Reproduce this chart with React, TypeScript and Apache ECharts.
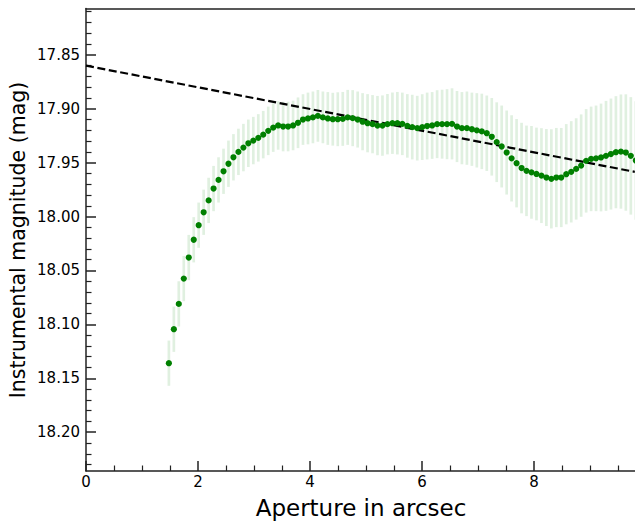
import React, { useEffect, useRef } from "react";
import * as echarts from "echarts";

// Aperture radius (arcsec)
const apertures = [
  1.480, 1.569, 1.657, 1.746, 1.835, 1.924, 2.012, 2.101, 2.190, 2.278,
  2.367, 2.456, 2.544, 2.633, 2.722, 2.811, 2.899, 2.988, 3.077, 3.165,
  3.254, 3.343, 3.431, 3.520, 3.609, 3.698, 3.786, 3.875, 3.964, 4.052,
  4.141, 4.230, 4.318, 4.407, 4.496, 4.585, 4.673, 4.762, 4.851, 4.939,
  5.028, 5.117, 5.205, 5.294, 5.383, 5.472, 5.560, 5.649, 5.738, 5.826,
  5.915, 6.004, 6.092, 6.181, 6.270, 6.359, 6.447, 6.536, 6.625, 6.713,
  6.802, 6.891, 6.979, 7.068, 7.157, 7.246, 7.334, 7.423, 7.512, 7.600,
  7.689, 7.778, 7.866, 7.955, 8.044, 8.133, 8.221, 8.310, 8.399, 8.487,
  8.576, 8.665, 8.753, 8.842, 8.931, 9.020, 9.108, 9.197, 9.286, 9.374,
  9.463, 9.552, 9.640, 9.729, 9.818,
];

// Instrumental magnitude (mag)
const magnitudes = [
  18.136, 18.1045, 18.081, 18.0575, 18.038, 18.0215, 18.008, 17.996, 17.985, 17.974,
  17.966, 17.958, 17.951, 17.945, 17.940, 17.936, 17.932, 17.9295, 17.927, 17.924,
  17.9205, 17.9175, 17.9155, 17.9165, 17.9165, 17.9155, 17.913, 17.910, 17.909, 17.908,
  17.9066, 17.908, 17.909, 17.9097, 17.9097, 17.9094, 17.908, 17.9087, 17.910, 17.912,
  17.9134, 17.9143, 17.9156, 17.9156, 17.9143, 17.9134, 17.9134, 17.914, 17.9159, 17.917,
  17.918, 17.917, 17.916, 17.9155, 17.9143, 17.9143, 17.9143, 17.914, 17.9165, 17.918,
  17.918, 17.919, 17.920, 17.921, 17.9227, 17.926, 17.931, 17.935, 17.9406, 17.946,
  17.9505, 17.955, 17.9576, 17.959, 17.9605, 17.962, 17.9638, 17.965, 17.9638, 17.9638,
  17.9607, 17.9585, 17.9558, 17.9527, 17.9483, 17.9465, 17.946, 17.9452, 17.9437, 17.942,
  17.9403, 17.9397, 17.9406, 17.9437, 17.948,
];

// Magnitude uncertainty (mag, half-length of error bar)
const magErrors = [
  0.021, 0.021, 0.021, 0.021, 0.021, 0.021, 0.021, 0.021, 0.021, 0.021,
  0.021, 0.021, 0.0215, 0.0215, 0.0215, 0.022, 0.022, 0.022, 0.022, 0.022,
  0.0225, 0.0225, 0.0225, 0.023, 0.023, 0.023, 0.0235, 0.0235, 0.024, 0.024,
  0.024, 0.024, 0.0245, 0.0245, 0.025, 0.025, 0.0255, 0.026, 0.026, 0.0265,
  0.027, 0.027, 0.0275, 0.028, 0.028, 0.0285, 0.029, 0.029, 0.0295, 0.030,
  0.030, 0.0305, 0.031, 0.031, 0.0315, 0.032, 0.0325, 0.033, 0.033, 0.0335,
  0.034, 0.034, 0.0345, 0.035, 0.035, 0.036, 0.037, 0.038, 0.039, 0.040,
  0.041, 0.042, 0.042, 0.043, 0.043, 0.044, 0.045, 0.046, 0.046, 0.046,
  0.0465, 0.047, 0.047, 0.0475, 0.048, 0.0485, 0.049, 0.050, 0.051, 0.0515,
  0.052, 0.053, 0.054, 0.0545, 0.055,
];

// Dashed reference line endpoints
const lineX = [0, 9.8];
const lineY = [17.86, 17.9585];

// Tick values
const xMajorTicks = [0, 2, 4, 6, 8];
const xMinorTicks = [0.5, 1, 1.5, 2.5, 3, 3.5, 4.5, 5, 5.5, 6.5, 7, 7.5, 8.5, 9, 9.5];
const yMajorTicks = [17.85, 17.9, 17.95, 18.0, 18.05, 18.1, 18.15, 18.2];
const yMinorTicks = [
  17.81, 17.82, 17.83, 17.84, 17.86, 17.87, 17.88, 17.89, 17.91, 17.92, 17.93, 17.94,
  17.96, 17.97, 17.98, 17.99, 18.01, 18.02, 18.03, 18.04, 18.06, 18.07, 18.08, 18.09,
  18.11, 18.12, 18.13, 18.14, 18.16, 18.17, 18.18, 18.19, 18.21, 18.22, 18.23,
];

const X_TITLE = "Aperture in arcsec";
const Y_TITLE = "Instrumental magnitude (mag)";

const X_MIN = 0;
const X_MAX = 9.8;
const Y_MIN = 17.807;
const Y_MAX = 18.236;

const FONT = "DejaVu Sans";
const AXIS_COLOR = "#222";

export default function App() {
  const ref = useRef<HTMLDivElement>(null);

  useEffect(() => {
    if (!ref.current) return;
    const chart = echarts.init(ref.current, null, { renderer: "svg" });

    const errData = apertures.map((x, i) => [x, magnitudes[i], magErrors[i]]);
    const ptData = apertures.map((x, i) => [x, magnitudes[i]]);
    const lineData = lineX.map((x, i) => [x, lineY[i]]);

    const baseX = {
      type: "value" as const,
      min: X_MIN,
      max: X_MAX,
      splitLine: { show: false },
    };
    const baseY = {
      type: "value" as const,
      min: Y_MIN,
      max: Y_MAX,
      inverse: true,
      splitLine: { show: false },
    };

    chart.setOption({
      animation: false,
      backgroundColor: "#fff",
      textStyle: { fontFamily: FONT },
      grid: {
        left: 86,
        top: 8.5,
        right: 0.2,
        bottom: 50,
        containLabel: false,
        outerBoundsMode: "none",
      },
      graphic: [
        {
          type: "text",
          x: 361,
          y: 508,
          silent: true,
          style: {
            text: X_TITLE,
            fontSize: 23,
            fontFamily: FONT,
            fill: "#000",
            align: "center",
            verticalAlign: "middle",
            textAlign: "center",
            textVerticalAlign: "middle",
          },
        },
        {
          type: "text",
          x: 18,
          y: 240,
          rotation: Math.PI / 2,
          silent: true,
          style: {
            text: Y_TITLE,
            fontSize: 20.5,
            fontFamily: FONT,
            fill: "#000",
            align: "center",
            verticalAlign: "middle",
            textAlign: "center",
            textVerticalAlign: "middle",
          },
        },
      ],
      xAxis: [
        {
          ...baseX,
          position: "bottom",
          axisLine: { show: true, lineStyle: { color: AXIS_COLOR, width: 1.5 } },
          axisTick: {
            show: true,
            inside: true,
            length: 10,
            customValues: xMajorTicks,
            lineStyle: { color: AXIS_COLOR, width: 1.5 },
          },
          axisLabel: {
            show: true,
            customValues: xMajorTicks,
            margin: 3,
            fontSize: 15,
            color: "#000",
            fontFamily: FONT,
            formatter: (v: number) => String(v),
          },
        },
        {
          ...baseX,
          position: "bottom",
          axisLine: { show: false },
          axisTick: {
            show: true,
            inside: true,
            length: 5.5,
            customValues: xMinorTicks,
            lineStyle: { color: AXIS_COLOR, width: 1.2 },
          },
          axisLabel: { show: false },
        },
        {
          ...baseX,
          position: "top",
          axisLine: { show: true, lineStyle: { color: AXIS_COLOR, width: 1.5 } },
          axisTick: { show: false },
          axisLabel: { show: false },
        },
      ],
      yAxis: [
        {
          ...baseY,
          position: "left",
          axisLine: { show: true, lineStyle: { color: AXIS_COLOR, width: 1.5 } },
          axisTick: {
            show: true,
            inside: true,
            length: 10,
            customValues: yMajorTicks,
            lineStyle: { color: AXIS_COLOR, width: 1.5 },
          },
          axisLabel: {
            show: true,
            customValues: yMajorTicks,
            margin: 6,
            fontSize: 15,
            color: "#000",
            fontFamily: FONT,
            formatter: (v: number) => v.toFixed(2),
          },
        },
        {
          ...baseY,
          position: "left",
          axisLine: { show: false },
          axisTick: {
            show: true,
            inside: true,
            length: 5.5,
            customValues: yMinorTicks,
            lineStyle: { color: AXIS_COLOR, width: 1.2 },
          },
          axisLabel: { show: false },
        },
      ],
      series: [
        {
          type: "custom",
          xAxisIndex: 0,
          yAxisIndex: 0,
          data: errData,
          encode: { x: 0, y: 1 },
          z: 1,
          renderItem: (params: any, api: any) => {
            const x = api.value(0);
            const y = api.value(1);
            const e = api.value(2);
            const p1 = api.coord([x, y - e]);
            const p2 = api.coord([x, y + e]);
            return {
              type: "line",
              shape: { x1: p1[0], y1: p1[1], x2: p2[0], y2: p2[1] },
              style: { stroke: "rgba(0,128,0,0.12)", lineWidth: 2.7 },
            };
          },
        },
        {
          type: "line",
          xAxisIndex: 0,
          yAxisIndex: 0,
          data: lineData,
          showSymbol: false,
          symbol: "none",
          z: 2,
          lineStyle: { color: "#000", width: 2.2, type: [8, 3.6] },
        },
        {
          type: "scatter",
          xAxisIndex: 0,
          yAxisIndex: 0,
          data: ptData,
          symbol: "circle",
          symbolSize: 6.2,
          clip: false,
          z: 3,
          itemStyle: { color: "#008000", opacity: 1 },
        },
      ],
    });

    return () => chart.dispose();
  }, []);

  return (
    <div
      ref={ref}
      style={{ position: "fixed", left: 0, top: 0, width: 635, height: 521 }}
    />
  );
}
